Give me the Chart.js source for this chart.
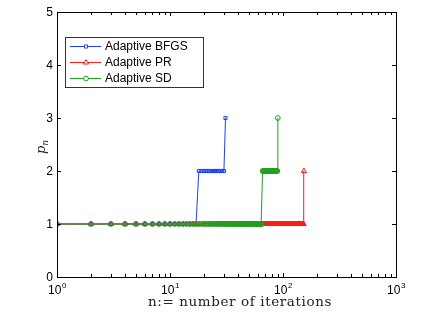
<!DOCTYPE html>
<html>
<head>
<meta charset="utf-8">
<script src="https://cdn.jsdelivr.net/npm/chart.js@4/dist/chart.umd.min.js"></script>
<style>
html,body{margin:0;padding:0;background:#fff;}
#wrap{width:436px;height:327px;position:relative;}
</style>
</head>
<body>
<div id="wrap"><canvas id="c" width="436" height="327"></canvas></div>
<script>
// ---- data (p_n at iteration n = 1, 2, 3, ...) ----
const seriesNames = ['Adaptive BFGS', 'Adaptive PR', 'Adaptive SD'];
const bfgsP = [
  1,1,1,1,1,1,1,1,1,1, 1,1,1,1,1,1,1,2,2,2, 2,2,2,2,2,2,2,2,2,2, 3
];
const prP = [
  1,1,1,1,1,1,1,1,1,1, 1,1,1,1,1,1,1,1,1,1, 1,1,1,1,1,1,1,1,1,1,
  1,1,1,1,1,1,1,1,1,1, 1,1,1,1,1,1,1,1,1,1, 1,1,1,1,1,1,1,1,1,1,
  1,1,1,1,1,1,1,1,1,1, 1,1,1,1,1,1,1,1,1,1, 1,1,1,1,1,1,1,1,1,1,
  1,1,1,1,1,1,1,1,1,1, 1,1,1,1,1,1,1,1,1,1, 1,1,1,1,1,1,1,1,1,1,
  1,1,1,1,1,1,1,1,1,1, 1,1,1,1,1,1,1,1,1,1, 1,1,1,1,1,1,1,1,1,1,
  1,1,2
];
const sdP = [
  1,1,1,1,1,1,1,1,1,1, 1,1,1,1,1,1,1,1,1,1, 1,1,1,1,1,1,1,1,1,1,
  1,1,1,1,1,1,1,1,1,1, 1,1,1,1,1,1,1,1,1,1, 1,1,1,1,1,1,1,1,1,1,
  1,1,1,1,1,2,2,2,2,2, 2,2,2,2,2,2,2,2,2,2, 2,2,2,2,2,2,2,2,2,3
];
const xTicks = [1, 10, 100, 1000];
const xTickExps = ['0', '1', '2', '3'];
const yTicks = [0, 1, 2, 3, 4, 5];
const xTitle = 'n:= number of iterations';

const colors = ['#1f3fff', '#ff1a1a', '#1f9f1f'];
const styles = ['rect', 'triangle', 'circle'];
const radii = [2.2, 3, 2.4];

function toPts(arr){ return arr.map((v,i)=>({x:i+1, y:v})); }
const allSeries = [bfgsP, prP, sdP];

const datasets = allSeries.map((arr, k) => ({
  label: seriesNames[k],
  data: toPts(arr),
  borderColor: colors[k],
  backgroundColor: 'rgba(255,255,255,0)',
  pointBackgroundColor: 'rgba(255,255,255,0)',
  pointBorderColor: colors[k],
  pointStyle: styles[k],
  pointRadius: radii[k],
  pointBorderWidth: 1,
  borderWidth: 1,
  tension: 0,
  order: 3 - k
}));

const FRAME = {left:57, right:396, top:12, bottom:277};

const axesPlugin = {
  id: 'axesPlugin',
  afterDraw(chart){
    const ctx = chart.ctx;
    const xs = chart.scales.x, ys = chart.scales.y;
    const a = chart.chartArea;
    ctx.save();
    // frame
    ctx.strokeStyle = '#000';
    ctx.lineWidth = 1;
    ctx.strokeRect(Math.round(a.left)+0.5, Math.round(a.top)+0.5, Math.round(a.right-a.left), Math.round(a.bottom-a.top));
    const tl = 4;
    // y ticks
    ctx.beginPath();
    yTicks.forEach(v => {
      const y = Math.round(ys.getPixelForValue(v)) + 0.5;
      ctx.moveTo(a.left, y); ctx.lineTo(a.left + tl, y);
      ctx.moveTo(a.right, y); ctx.lineTo(a.right - tl, y);
    });
    // x ticks major + minor
    for (let d = 0; d < 3; d++) {
      for (let m = 1; m <= 9; m++) {
        const v = Math.pow(10, d) * m;
        const x = Math.round(xs.getPixelForValue(v)) + 0.5;
        const len = m === 1 ? tl : 3;
        ctx.moveTo(x, a.bottom); ctx.lineTo(x, a.bottom - len);
        ctx.moveTo(x, a.top); ctx.lineTo(x, a.top + len);
      }
    }
    ctx.stroke();
    // y tick labels
    ctx.fillStyle = '#000';
    ctx.font = '12px "Liberation Sans", Arial, sans-serif';
    ctx.textAlign = 'right';
    ctx.textBaseline = 'middle';
    yTicks.forEach(v => {
      ctx.fillText(String(v), a.left - 4, ys.getPixelForValue(v) + 0.5);
    });
    // x tick labels 10^k
    xTicks.forEach((v, i) => {
      const x = xs.getPixelForValue(v);
      ctx.font = '12px "Liberation Sans", Arial, sans-serif';
      const w1 = ctx.measureText('10').width;
      ctx.font = '8px "Liberation Sans", Arial, sans-serif';
      const w2 = ctx.measureText(xTickExps[i]).width;
      const x0 = x - (w1 + w2) / 2;
      ctx.textAlign = 'left';
      ctx.textBaseline = 'alphabetic';
      ctx.font = '12px "Liberation Sans", Arial, sans-serif';
      ctx.fillText('10', x0, a.bottom + 17);
      ctx.font = '8px "Liberation Sans", Arial, sans-serif';
      ctx.fillText(xTickExps[i], x0 + w1 + 0.5, a.bottom + 11);
    });
    // x title
    ctx.save();
    ctx.font = '13.5px "DejaVu Serif", serif';
    try { ctx.letterSpacing = '0.6px'; } catch(e) {}
    ctx.textAlign = 'center';
    ctx.textBaseline = 'middle';
    ctx.fillStyle = '#222';
    ctx.fillText(xTitle, 240, 302);
    ctx.restore();
    // y title p_n (rotated)
    ctx.save();
    ctx.fillStyle = '#222';
    ctx.translate(45, 148);
    ctx.rotate(-Math.PI / 2);
    ctx.font = 'italic 13px "DejaVu Serif", serif';
    ctx.textAlign = 'left';
    ctx.textBaseline = 'alphabetic';
    const pw = ctx.measureText('p').width;
    ctx.fillText('p', -6, 0);
    ctx.font = 'italic 9px "DejaVu Serif", serif';
    ctx.fillText('n', -6 + pw, 3);
    ctx.restore();
    // legend
    const lx = 65, ly = 37, lw = 138, lh = 50;
    ctx.fillStyle = '#fff';
    ctx.fillRect(lx, ly, lw, lh);
    ctx.strokeStyle = '#333';
    ctx.lineWidth = 1;
    ctx.strokeRect(lx + 0.5, ly + 0.5, lw, lh);
    const rows = [46, 62, 78];
    chart.data.datasets.forEach((ds, k) => {
      const y = rows[k] + 0.5;
      ctx.strokeStyle = ds.borderColor;
      ctx.lineWidth = 1;
      ctx.beginPath();
      ctx.moveTo(70, y); ctx.lineTo(101, y);
      ctx.stroke();
      ctx.fillStyle = '#fff';
      ctx.strokeStyle = ds.borderColor;
      Chart.helpers.drawPoint(ctx, {
        pointStyle: ds.pointStyle, radius: ds.pointRadius, rotation: 0, borderWidth: 1
      }, 86, y);
      ctx.fillStyle = '#000';
      ctx.font = '12px "Liberation Sans", Arial, sans-serif';
      ctx.textAlign = 'left';
      ctx.textBaseline = 'middle';
      ctx.fillText(ds.label, 105, rows[k] + 1);
    });
    ctx.restore();
  }
};

new Chart(document.getElementById('c'), {
  type: 'line',
  data: { datasets },
  options: {
    responsive: false,
    animation: false,
    devicePixelRatio: 1,
    layout: { padding: { left: FRAME.left, right: 436 - FRAME.right, top: FRAME.top, bottom: 327 - FRAME.bottom } },
    plugins: { legend: { display: false }, tooltip: { enabled: false } },
    scales: {
      x: { type: 'logarithmic', min: 1, max: 1000, display: false },
      y: { type: 'linear', min: 0, max: 5, display: false }
    },
    elements: { line: { fill: false } }
  },
  plugins: [axesPlugin]
});
</script>
</body>
</html>
